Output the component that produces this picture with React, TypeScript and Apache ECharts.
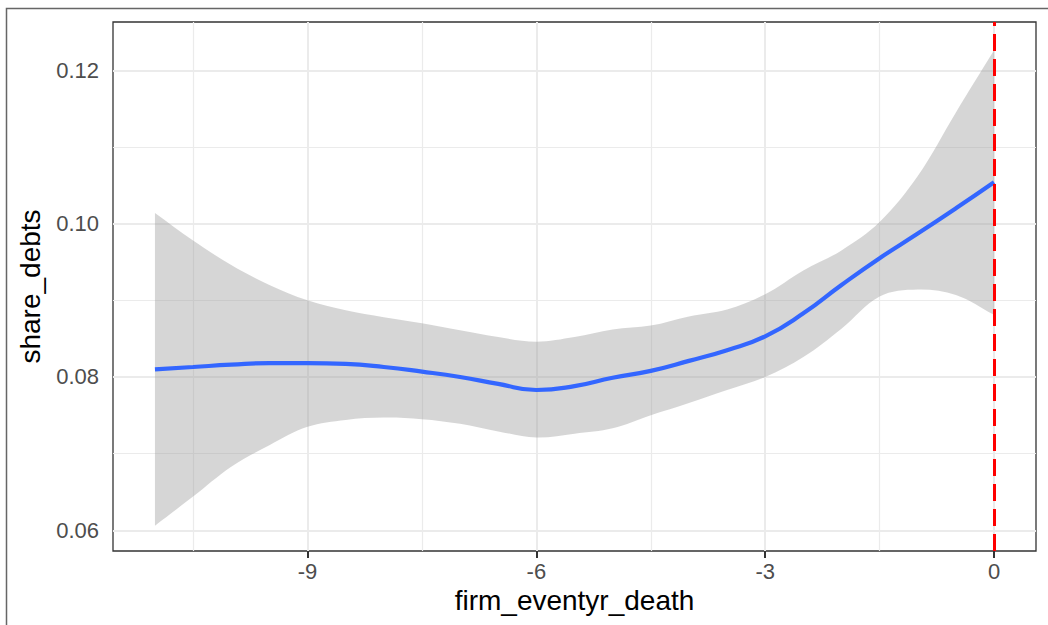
import React, { useEffect, useRef } from "react";
import * as echarts from "echarts";

// x positions (firm_eventyr_death)
const xValues = [-11, -10.5, -10, -9.5, -9, -8.5, -8, -7.5, -7, -6.5, -6, -5.5, -5, -4.5, -4, -3.5, -3, -2.5, -2, -1.5, -1, -0.5, 0];
// smoothed fit (share_debts)
const fitValues = [0.0810, 0.0813, 0.0816, 0.0818, 0.0818, 0.0817, 0.0813, 0.0807, 0.0800, 0.0791, 0.0783, 0.0788, 0.0799, 0.0808, 0.0821, 0.0835, 0.0853, 0.0883, 0.0920, 0.0955, 0.0987, 0.1020, 0.1054];
// confidence band
const upperValues = [0.1014, 0.0978, 0.0946, 0.0920, 0.0900, 0.0887, 0.0878, 0.0870, 0.0861, 0.0852, 0.0846, 0.0852, 0.0862, 0.0867, 0.0879, 0.0888, 0.0908, 0.0939, 0.0965, 0.1002, 0.1062, 0.1145, 0.1226];
const lowerValues = [0.0606, 0.0644, 0.0683, 0.0711, 0.0735, 0.0744, 0.0747, 0.0745, 0.0739, 0.0729, 0.0721, 0.0726, 0.0733, 0.0750, 0.0766, 0.0783, 0.0800, 0.0826, 0.0863, 0.0905, 0.0914, 0.0907, 0.0881];

const xTicks = [-9, -6, -3, 0];
const xMinorTicks = [-10.5, -7.5, -4.5, -1.5];
const yTicks = [0.06, 0.08, 0.1, 0.12];
const yMinorTicks = [0.07, 0.09, 0.11];
const vlineX = 0;

const X_MIN = -11.55;
const X_MAX = 0.55;
const Y_MIN = 0.0573;
const Y_MAX = 0.1263;

export default function App() {
  const ref = useRef<HTMLDivElement>(null);

  useEffect(() => {
    document.body.style.margin = "0";
    if (!ref.current) return;
    const chart = echarts.init(ref.current, null, { renderer: "svg" });

    const fitData = xValues.map((x, i) => [x, fitValues[i]]);
    const bandData = xValues.map((x, i) => [x, lowerValues[i], upperValues[i]]);

    const gridLineMarks = [
      ...xTicks.map((v) => ({ xAxis: v, lineStyle: { color: "#ebebeb", width: 2, type: "solid" } })),
      ...xMinorTicks.map((v) => ({ xAxis: v, lineStyle: { color: "#ebebeb", width: 1.2, type: "solid" } })),
      ...yTicks.map((v) => ({ yAxis: v, lineStyle: { color: "#ebebeb", width: 2, type: "solid" } })),
      ...yMinorTicks.map((v) => ({ yAxis: v, lineStyle: { color: "#ebebeb", width: 1.2, type: "solid" } })),
    ];

    const font = "Liberation Sans, Arial, Helvetica, sans-serif";

    chart.setOption({
      animation: false,
      backgroundColor: "#ffffff",
      textStyle: { fontFamily: font },
      grid: {
        left: 113,
        top: 22,
        right: 12,
        bottom: 74,
        show: true,
        borderColor: "#333333",
        borderWidth: 1.3,
        backgroundColor: "transparent",
      },
      graphic: [
        {
          type: "rect",
          shape: { x: 6.5, y: 8.5, width: 1200, height: 800 },
          style: { fill: "none", stroke: "#666666", lineWidth: 1.5 },
          silent: true,
          z: 100,
        },
      ],
      xAxis: {
        type: "value",
        min: X_MIN,
        max: X_MAX,
        name: "firm_eventyr_death",
        nameLocation: "middle",
        nameGap: 33,
        nameTextStyle: { fontSize: 28, color: "#000000", fontFamily: font },
        axisLine: { show: false },
        axisTick: {
          show: true,
          customValues: xTicks,
          length: 7,
          lineStyle: { color: "#333333", width: 2 },
        },
        axisLabel: {
          customValues: xTicks,
          fontSize: 22,
          color: "#4d4d4d",
          margin: 9,
          fontFamily: font,
          formatter: (v: number) => String(v),
        },
        splitLine: { show: false },
      },
      yAxis: {
        type: "value",
        min: Y_MIN,
        max: Y_MAX,
        name: "share_debts",
        nameLocation: "middle",
        nameGap: 69,
        nameRotate: 90,
        nameTextStyle: { fontSize: 28, color: "#000000", fontFamily: font },
        axisLine: { show: false },
        axisTick: {
          show: true,
          customValues: yTicks,
          length: 7,
          lineStyle: { color: "#333333", width: 2 },
        },
        axisLabel: {
          customValues: yTicks,
          fontSize: 22,
          color: "#4d4d4d",
          margin: 14,
          fontFamily: font,
          formatter: (v: number) => v.toFixed(2),
        },
        splitLine: { show: false },
      },
      series: [
        {
          type: "line",
          name: "grid",
          data: [],
          silent: true,
          markLine: {
            z: 1,
            silent: true,
            symbol: "none",
            label: { show: false },
            data: gridLineMarks,
          },
        },
        {
          type: "custom",
          name: "band",
          z: 2,
          silent: true,
          data: bandData,
          encode: { x: 0, y: [1, 2] },
          renderItem: (params: any, api: any) => {
            if (params.dataIndex !== 0) return null;
            const up = xValues.map((x, i) => api.coord([x, upperValues[i]]));
            const lo = xValues.map((x, i) => api.coord([x, lowerValues[i]])).reverse();
            const pts: number[][] = [];
            pts.push(up[0], up[0]);
            for (let i = 1; i < up.length - 1; i++) pts.push(up[i]);
            pts.push(up[up.length - 1], up[up.length - 1]);
            pts.push(lo[0], lo[0]);
            for (let i = 1; i < lo.length - 1; i++) pts.push(lo[i]);
            pts.push(lo[lo.length - 1], lo[lo.length - 1]);
            return {
              type: "polygon",
              shape: { points: pts, smooth: 0.35 },
              style: { fill: "rgba(153,153,153,0.4)", stroke: "none" },
            };
          },
        },
        {
          type: "line",
          name: "fit",
          z: 3,
          data: fitData,
          smooth: 0.5,
          showSymbol: false,
          symbol: "none",
          lineStyle: { color: "#3366FF", width: 4.2 },
          silent: true,
        },
        {
          type: "line",
          name: "vline",
          data: [],
          silent: true,
          markLine: {
            z: 5,
            silent: true,
            symbol: "none",
            label: { show: false },
            data: [{ xAxis: vlineX }],
            lineStyle: { color: "#ff0000", width: 3, type: [17, 8] },
          },
        },
      ],
    });

    return () => chart.dispose();
  }, []);

  return (
    <div
      ref={ref}
      style={{ position: "absolute", left: 0, top: 0, width: 1048, height: 625 }}
    />
  );
}
